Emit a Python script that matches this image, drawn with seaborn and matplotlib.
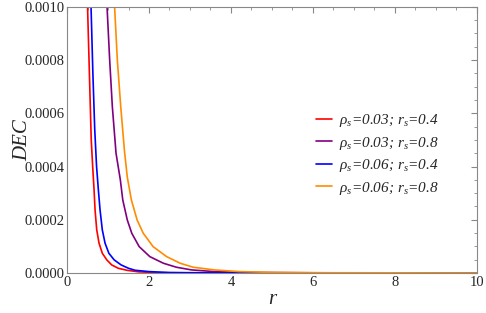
import pandas as pd
import matplotlib
matplotlib.use("Agg")
import matplotlib.pyplot as plt
import seaborn as sns
from matplotlib.ticker import MultipleLocator

# values
r_red = [0.50, 0.545, 0.59, 0.625, 0.659, 0.683, 0.724, 0.78, 0.86, 0.97,
         1.09, 1.25, 1.46, 1.75, 2.2, 3.0, 10.0]
dec_red = [0.00100, 0.00075, 0.00050, 0.00040, 0.000312, 0.000237, 0.000162,
           0.000112, 0.000074, 0.000049, 0.000030, 0.0000175, 0.000010,
           0.000004, 0.000001, 0.0000002, 0.0]

r_purple = [0.976, 1.04, 1.105, 1.195, 1.30, 1.36, 1.47, 1.58, 1.76, 2.02,
            2.35, 2.67, 3.04, 3.6, 4.5, 6.0, 10.0]
dec_purple = [0.00100, 0.00080, 0.000625, 0.00045, 0.00035, 0.000274,
              0.000199, 0.000149, 0.0000989, 0.0000613, 0.0000365, 0.0000214,
              0.0000113, 0.000005, 0.0000018, 0.0000004, 0.0]

r_blue = [0.585, 0.63, 0.675, 0.72, 0.764, 0.805, 0.86, 0.927, 1.02, 1.15,
          1.32, 1.50, 1.66, 2.0, 2.5, 3.5, 10.0]
dec_blue = [0.00100, 0.00075, 0.00054, 0.00040, 0.000312, 0.000237, 0.000162,
            0.000112, 0.000074, 0.000049, 0.000030, 0.0000175, 0.000010,
            0.000005, 0.0000015, 0.0000003, 0.0]

r_orange = [1.16, 1.227, 1.31, 1.40, 1.47, 1.57, 1.71, 1.86, 2.10, 2.43,
            2.76, 3.08, 3.6, 4.2, 5.0, 6.5, 10.0]
dec_orange = [0.00100, 0.00080, 0.000625, 0.00046, 0.00036, 0.000274,
              0.000199, 0.000149, 0.0000989, 0.0000613, 0.0000365, 0.0000214,
              0.0000113, 0.000005, 0.000002, 0.0000006, 0.0]

labels = [r"$\rho_s$=0.03; $r_s$=0.4", r"$\rho_s$=0.03; $r_s$=0.8",
          r"$\rho_s$=0.06; $r_s$=0.4", r"$\rho_s$=0.06; $r_s$=0.8"]
colors = ["#ff0000", "#800080", "#0000ff", "#ff8c00"]

frames = []
for lab, r, d in zip(labels, [r_red, r_purple, r_blue, r_orange],
                     [dec_red, dec_purple, dec_blue, dec_orange]):
    frames.append(pd.DataFrame({"r": r, "DEC": d, "case": lab}))
df = pd.concat(frames, ignore_index=True)

sns.set_style("white")
plt.rcParams["font.family"] = ["Liberation Serif", "DejaVu Serif"]
plt.rcParams["mathtext.fontset"] = "custom"
plt.rcParams["mathtext.it"] = "Liberation Serif:italic"
plt.rcParams["mathtext.rm"] = "Liberation Serif"

fig = plt.figure(figsize=(4.86, 3.13), dpi=100)
ax = fig.add_axes([0.138, 0.128, 0.843, 0.85])

sns.lineplot(data=df, x="r", y="DEC", hue="case", palette=colors,
             hue_order=labels, sort=False, lw=1.2, ax=ax)

ax.set_xlim(0, 10)
ax.set_ylim(0, 0.001)
ax.xaxis.set_major_locator(MultipleLocator(2))
ax.xaxis.set_minor_locator(MultipleLocator(0.5))
ax.yaxis.set_major_locator(MultipleLocator(0.0002))
ax.yaxis.set_minor_locator(MultipleLocator(0.00005))
ax.yaxis.set_major_formatter(plt.FuncFormatter(lambda v, p: f"{v:.4f}"))
ax.tick_params(which="both", direction="in", top=True, right=True,
               color="#888888", labelsize=10.5, pad=2)
ax.tick_params(which="major", length=4)
ax.tick_params(which="minor", length=2)
for s in ax.spines.values():
    s.set_color("#888888")
    s.set_linewidth(0.8)

ax.set_xlabel("r", fontsize=15, style="italic", labelpad=1)
ax.set_ylabel("DEC", fontsize=15, style="italic")
ax.yaxis.set_label_coords(-0.086, 0.5)

ax.legend(loc="center left", bbox_to_anchor=(0.575, 0.445), frameon=False,
          handlelength=1.0, handletextpad=0.45, labelspacing=0.36,
          prop={"style": "italic", "size": 11})

fig.savefig("out.png", dpi=100)
